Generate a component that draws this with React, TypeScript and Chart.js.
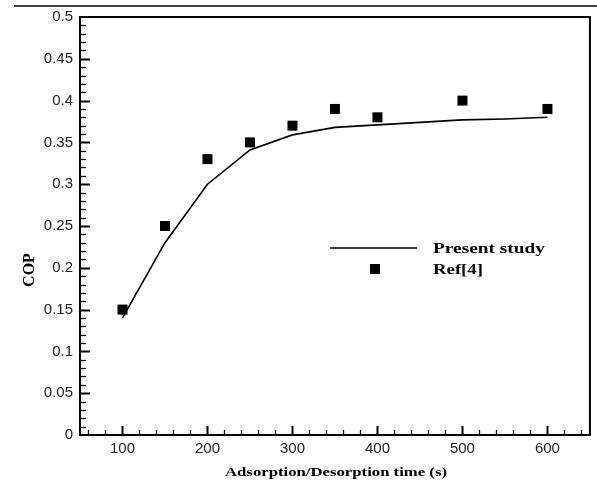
import React, { useEffect, useRef } from "react";
import { Chart, registerables } from "chart.js";

Chart.register(...registerables);

const studyTimes = [100, 150, 200, 250, 300, 350, 400, 450, 500, 550, 600];
const studyCOP = [0.14, 0.23, 0.30, 0.341, 0.359, 0.368, 0.371, 0.374, 0.377, 0.378, 0.38];

const refTimes = [100, 150, 200, 250, 300, 350, 400, 500, 600];
const refCOP = [0.15, 0.25, 0.33, 0.35, 0.37, 0.39, 0.38, 0.40, 0.39];

const xTickValues = [100, 200, 300, 400, 500, 600];
const yTickValues = [0, 0.05, 0.1, 0.15, 0.2, 0.25, 0.3, 0.35, 0.4, 0.45, 0.5];

const xTitle = "Adsorption/Desorption time (s)";
const yTitle = "COP";
const legendLine = "Present study";
const legendMarker = "Ref[4]";

function fitText(ctx: CanvasRenderingContext2D, text: string, x: number, y: number, width: number, align: "left" | "center") {
  const w = ctx.measureText(text).width;
  const sx = width / w;
  ctx.save();
  ctx.translate(x, y);
  ctx.scale(sx, 1);
  ctx.textAlign = align;
  ctx.fillText(text, 0, 0);
  ctx.restore();
}

const framePlugin = {
  id: "frame",
  afterDraw(chart: any) {
    const ctx: CanvasRenderingContext2D = chart.ctx;
    const { left, right, top, bottom } = chart.chartArea;
    const xs = chart.scales.x;
    const ys = chart.scales.y;
    ctx.save();
    ctx.strokeStyle = "#000";
    ctx.fillStyle = "#000";
    // top rule
    ctx.lineWidth = 1.5;
    ctx.beginPath();
    ctx.moveTo(14, 6);
    ctx.lineTo(597, 6);
    ctx.stroke();
    // frame
    ctx.lineWidth = 2;
    ctx.strokeRect(left, top, right - left, bottom - top);
    // x ticks
    for (let v = 60; v <= 640; v += 20) {
      const px = Math.round(xs.getPixelForValue(v)) + 0.5;
      const major = v % 100 === 0;
      ctx.lineWidth = major ? 2 : 1.3;
      ctx.beginPath();
      ctx.moveTo(px, bottom);
      ctx.lineTo(px, bottom - (major ? 9 : 5));
      ctx.stroke();
    }
    // y ticks
    for (let i = 1; i < 50; i++) {
      const v = i / 100;
      const py = Math.round(ys.getPixelForValue(v)) + 0.5;
      const major = i % 5 === 0;
      ctx.lineWidth = major ? 2 : 1.3;
      ctx.beginPath();
      ctx.moveTo(left, py);
      ctx.lineTo(left + (major ? 10 : 6), py);
      ctx.stroke();
    }
    // legend
    ctx.lineWidth = 1.6;
    ctx.beginPath();
    ctx.moveTo(330, 248);
    ctx.lineTo(417, 248);
    ctx.stroke();
    ctx.fillRect(370, 264, 10, 10);
    ctx.font = "bold 15px 'Liberation Serif', 'Times New Roman', serif";
    ctx.textBaseline = "alphabetic";
    fitText(ctx, legendLine, 433, 253, 112, "left");
    fitText(ctx, legendMarker, 433, 274, 50, "left");
    // axis titles
    ctx.font = "bold 13px 'Liberation Serif', 'Times New Roman', serif";
    fitText(ctx, xTitle, 336, 476, 222, "center");
    ctx.save();
    ctx.translate(34, 270);
    ctx.rotate(-Math.PI / 2);
    ctx.font = "bold 16px 'Liberation Serif', 'Times New Roman', serif";
    ctx.textAlign = "center";
    ctx.fillText(yTitle, 0, 0);
    ctx.restore();
    ctx.restore();
  },
};

export default function App() {
  const ref = useRef<HTMLCanvasElement>(null);
  useEffect(() => {
    document.body.style.margin = "0";
    const chart = new Chart(ref.current!, {
      type: "scatter",
      data: {
        datasets: [
          {
            label: legendLine,
            data: studyTimes.map((t, i) => ({ x: t, y: studyCOP[i] })),
            showLine: true,
            borderColor: "#000",
            borderWidth: 1.6,
            pointRadius: 0,
            tension: 0,
          },
          {
            label: legendMarker,
            data: refTimes.map((t, i) => ({ x: t, y: refCOP[i] })),
            pointStyle: "rect",
            pointRadius: 7.07,
            pointBorderWidth: 0,
            backgroundColor: "#000",
            borderColor: "#000",
            showLine: false,
          },
        ],
      },
      options: {
        animation: false,
        responsive: false,
        layout: { padding: { top: 17, right: 4, left: 0, bottom: 0 } },
        plugins: { legend: { display: false }, tooltip: { enabled: false } },
        scales: {
          x: {
            type: "linear",
            min: 50,
            max: 650,
            afterBuildTicks: (s: any) => {
              s.ticks = xTickValues.map((v) => ({ value: v }));
            },
            afterFit: (s: any) => {
              s.height = 46;
            },
            grid: { display: false, drawTicks: false },
            border: { display: false },
            ticks: {
              padding: 5,
              color: "#222",
              font: { family: "'Liberation Sans', Arial, sans-serif", size: 15 },
            },
          },
          y: {
            type: "linear",
            min: 0,
            max: 0.5,
            afterBuildTicks: (s: any) => {
              s.ticks = yTickValues.map((v) => ({ value: v }));
            },
            afterFit: (s: any) => {
              s.width = 80;
            },
            grid: { display: false, drawTicks: false },
            border: { display: false },
            ticks: {
              padding: 7,
              color: "#222",
              font: { family: "'Liberation Sans', Arial, sans-serif", size: 15 },
              callback: (v: any) => String(Number(v)),
            },
          },
        },
      },
      plugins: [framePlugin],
    });
    return () => chart.destroy();
  }, []);
  return <canvas ref={ref} width={597} height={481} style={{ display: "block" }} />;
}
